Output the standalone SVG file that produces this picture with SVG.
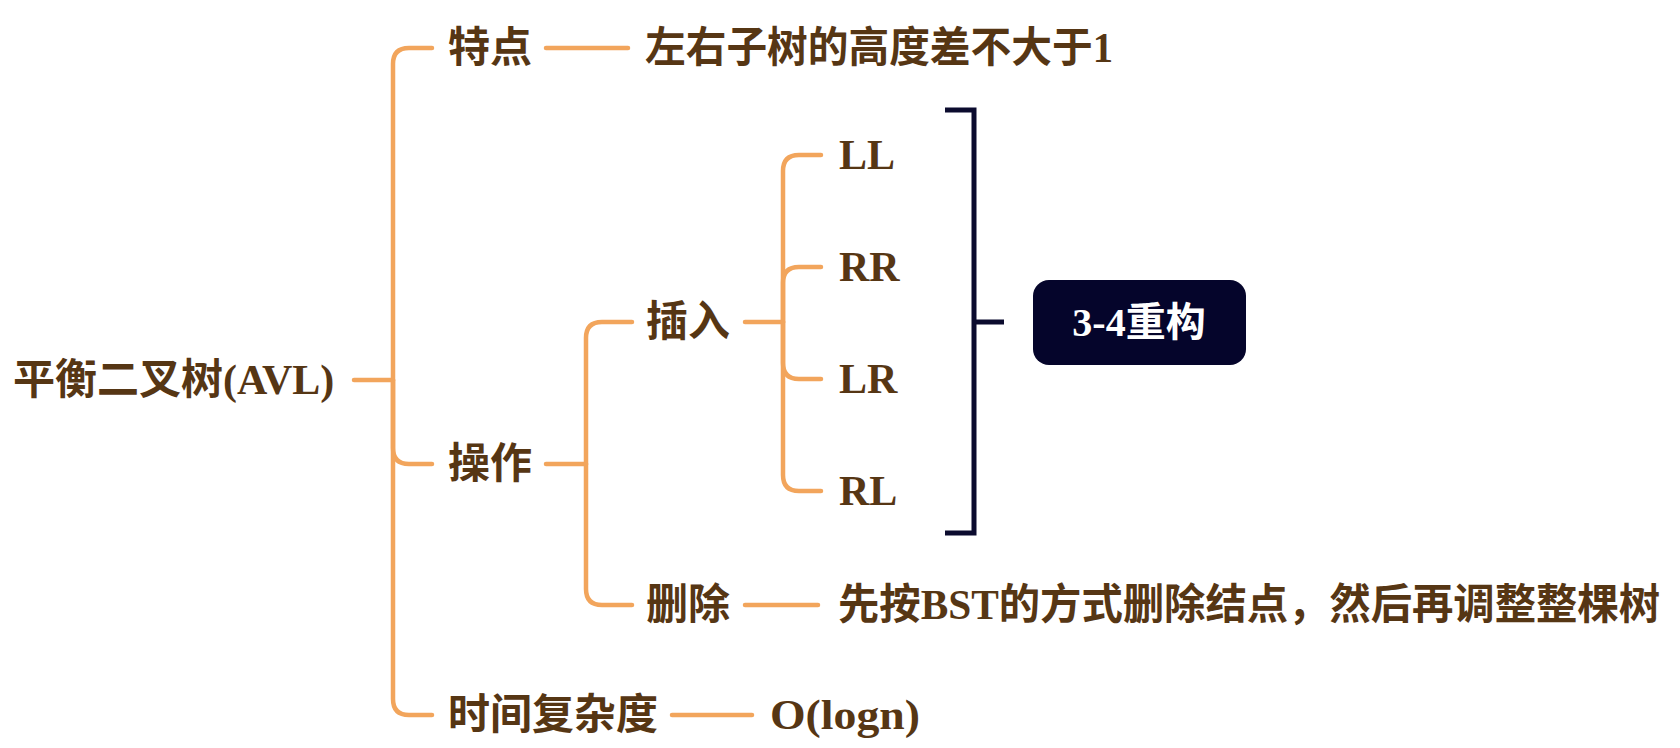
<svg xmlns="http://www.w3.org/2000/svg" width="1680" height="748" viewBox="0 0 1680 748">
<style>
.t{font-family:"Liberation Serif","Noto Sans CJK SC",serif;font-size:42px;font-weight:bold;fill:#563614;dominant-baseline:central}
.c{fill:none;stroke:#F2A55C;stroke-width:4.5;stroke-linecap:round}
.b{fill:none;stroke:#0B0B2E;stroke-width:5}
.bt{font-family:"Liberation Serif","Noto Sans CJK SC",serif;font-size:40px;font-weight:bold;fill:#ffffff;dominant-baseline:central;text-anchor:middle}
</style>
<rect width="1680" height="748" fill="#ffffff"/>
<g id="connectors">
<path class="c" d="M354 380 H393"/>
<path class="c" d="M393 380 V64 Q393 48 409 48 H432"/>
<path class="c" d="M393 380 V448 Q393 464 409 464 H432"/>
<path class="c" d="M393 380 V699 Q393 715 409 715 H432"/>
<path class="c" d="M546 48 H628"/>
<path class="c" d="M546 464 H586"/>
<path class="c" d="M586 464 V338 Q586 322 602 322 H632"/>
<path class="c" d="M586 464 V589 Q586 605 602 605 H632"/>
<path class="c" d="M745 322 H783"/>
<path class="c" d="M783 322 V171 Q783 155 799 155 H821"/>
<path class="c" d="M783 322 V283 Q783 267 799 267 H821"/>
<path class="c" d="M783 322 V363 Q783 379 799 379 H821"/>
<path class="c" d="M783 322 V475 Q783 491 799 491 H821"/>
<path class="c" d="M745 605 H818"/>
<path class="c" d="M672 715 H752"/>
<path class="b" d="M945 110 H974 V533 H945 M974 322 H1004"/>
</g>
<g id="root"><text class="t" x="13" y="380">平衡二叉树(AVL)</text></g>
<g id="n-tedian"><text class="t" x="448" y="48">特点</text></g>
<g id="n-tedian-d"><text class="t" x="645" y="48" textLength="468" lengthAdjust="spacingAndGlyphs">左右子树的高度差不大于1</text></g>
<g id="n-caozuo"><text class="t" x="448" y="464">操作</text></g>
<g id="n-charu"><text class="t" x="646" y="322">插入</text></g>
<g id="n-ll"><text class="t" x="839" y="155">LL</text></g>
<g id="n-rr"><text class="t" x="839" y="267">RR</text></g>
<g id="n-lr"><text class="t" x="839" y="379">LR</text></g>
<g id="n-rl"><text class="t" x="839" y="491">RL</text></g>
<g id="n-chongou"><rect x="1033" y="280" width="213" height="85" rx="16" fill="#05052B"/><text class="bt" x="1139" y="322">3-4重构</text></g>
<g id="n-shanchu"><text class="t" x="646" y="605">删除</text></g>
<g id="n-shanchu-d"><text class="t" x="838" y="605" textLength="822" lengthAdjust="spacingAndGlyphs">先按BST的方式删除结点，然后再调整整棵树</text></g>
<g id="n-time"><text class="t" x="448" y="715">时间复杂度</text></g>
<g id="n-time-d"><text class="t" x="770" y="715" textLength="150" lengthAdjust="spacingAndGlyphs">O(logn)</text></g>
</svg>
